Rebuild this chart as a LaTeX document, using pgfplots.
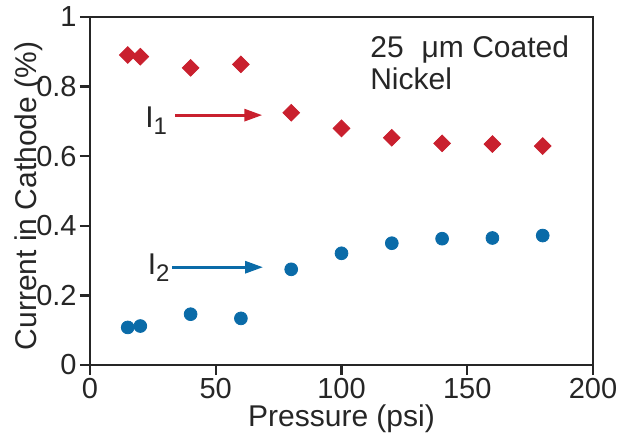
\documentclass[border=0pt]{standalone}
\usepackage{pgfplots}
\pgfplotsset{compat=1.18}
\usepackage{fontspec}
\setmainfont{Liberation Sans}
\usetikzlibrary{arrows.meta}
\definecolor{dred}{HTML}{C9202E}
\definecolor{dblue}{HTML}{0A6BA8}
\begin{document}
\begin{tikzpicture}
\begin{axis}[
  width=251.5pt, height=174pt, scale only axis,
  xmin=0, xmax=200, ymin=0, ymax=1,
  xtick={0,50,100,150,200},
  ytick={0,0.2,0.4,0.6,0.8,1},
  yticklabels={0,0.2,0.4,0.6,0.8,1},
  tick pos=left, tick align=outside,
  major tick length=5pt,
  axis line style={line width=1.2pt, black!85},
  every tick/.style={line width=1.2pt, black!85},
  /pgf/number format/assume math mode=true,
  tick label style={font=\fontsize{14.5}{15}\selectfont, text=black!85},
  xticklabel style={inner sep=1.2pt},
  yticklabel style={inner sep=1.5pt},
  xlabel={Pressure (psi)},
  ylabel={Current in Cathode (\%)},
  every axis x label/.style={at={([yshift=-30.5pt]axis description cs:0.5,0)}, anchor=base, font=\fontsize{15}{15}\selectfont, text=black!85},
  every axis y label/.style={at={([xshift=-30.75pt]axis description cs:0,0.486)}, anchor=center, rotate=90, font=\fontsize{15}{15}\selectfont, text=black!85},
  clip=false,
]
\addplot[only marks, mark=square*, mark size=2.95pt, mark options={rotate=45, draw=dred, fill=dred}] coordinates {
(15,0.891) (20,0.886) (40,0.854) (60,0.864) (80,0.725) (100,0.680) (120,0.653) (140,0.637) (160,0.635) (180,0.629)
};
\addplot[only marks, mark=*, mark size=3.2pt, mark options={draw=dblue, fill=dblue}] coordinates {
(15,0.108) (20,0.112) (40,0.146) (60,0.134) (80,0.275) (100,0.321) (120,0.350) (140,0.363) (160,0.365) (180,0.372)
};
\draw[dred, line width=1.5pt, -{Triangle[length=9pt,width=6pt]}] (axis cs:33.8,0.718) -- (axis cs:68.5,0.718);
\draw[dblue, line width=1.5pt, -{Triangle[length=9pt,width=6pt]}] (axis cs:32.8,0.281) -- (axis cs:68.8,0.281);
\node[anchor=base east, inner sep=0pt, text=black!85, font=\fontsize{15}{15}\selectfont] at (axis cs:30.8,0.683) {I\raisebox{-0.45ex}{\fontsize{12}{12}\selectfont 1}};
\node[anchor=base east, inner sep=0pt, text=black!85, font=\fontsize{15}{15}\selectfont] at (axis cs:31.8,0.261) {I\raisebox{-0.45ex}{\fontsize{12}{12}\selectfont 2}};
\node[anchor=base west, inner sep=0pt, text=black!85, font=\fontsize{15}{15}\selectfont] at (axis cs:111.3,0.885) {25\hspace{0.6em}μm Coated};
\node[anchor=base west, inner sep=0pt, text=black!85, font=\fontsize{15}{15}\selectfont] at (axis cs:111.3,0.792) {Nickel};
\coordinate (sw) at (rel axis cs:0,0);
\coordinate (ne) at (rel axis cs:1,1);
\end{axis}
\pgfresetboundingbox
\path[use as bounding box] ([shift={(-45pt,-35pt)}]sw) rectangle ([shift={(18pt,8.5pt)}]ne);
\end{tikzpicture}
\end{document}
